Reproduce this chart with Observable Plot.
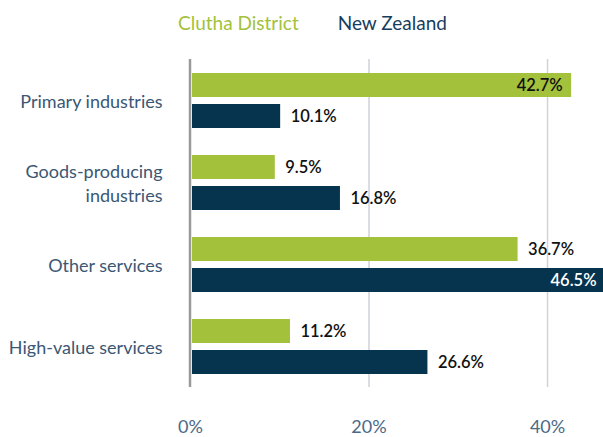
<!DOCTYPE html>
<html>
<head>
<meta charset="utf-8">
<script src="https://cdn.jsdelivr.net/npm/d3@7"></script>
<script src="https://cdn.jsdelivr.net/npm/@observablehq/plot@0.6"></script>
<style>
  html, body { margin: 0; padding: 0; background: #fff; }
  #legend { height: 44px; display: flex; align-items: center; padding-left: 178px; gap: 39px;
            font-family: Lato, "Open Sans", sans-serif; font-size: 19px; }
  #chart svg { display: block; }
</style>
</head>
<body>
<div id="legend"></div>
<div id="chart"></div>
<script>
const categories = ["Primary industries", "Goods-producing industries", "Other services", "High-value services"];
const categoryLabels = ["Primary industries", "Goods-producing\nindustries", "Other services", "High-value services"];
const series = ["Clutha District", "New Zealand"];
const seriesColors = ["#a3c13b", "#06344f"];
const legendColors = ["#a3c13b", "#173d5e"];
const cluthaValues = [42.7, 9.5, 36.7, 11.2];
const nzValues = [10.1, 16.8, 46.5, 26.6];
const xTicks = [0, 20, 40];
const gridTicks = [20, 40];

const rows = [];
categories.forEach((c, i) => {
  rows.push({category: c, series: series[0], value: cluthaValues[i]});
  rows.push({category: c, series: series[1], value: nzValues[i]});
});
const insideLimit = 40;
const fmt = d => d.toFixed(1) + "%";

const legend = document.getElementById("legend");
series.forEach((s, i) => {
  const span = document.createElement("span");
  span.textContent = s;
  span.style.color = legendColors[i];
  legend.appendChild(span);
});

const labelMap = new Map(categories.map((c, i) => [c, categoryLabels[i]]));

const chart = Plot.plot({
  width: 603,
  height: 393,
  marginLeft: 190,
  marginRight: 0,
  marginTop: 14,
  marginBottom: 49,
  style: {fontFamily: "Lato, 'Open Sans', sans-serif", background: "#fff"},
  x: {domain: [0, 46.27]},
  fy: {domain: categories, padding: 0},
  y: {domain: series, paddingInner: 0.234, paddingOuter: 0.406},
  color: {domain: series, range: seriesColors},
  marks: [
    Plot.ruleX(gridTicks, {stroke: "#cdd3da", strokeWidth: 1.5}),
    Plot.barX(rows, {x: "value", y: "series", fy: "category", fill: "series", insetLeft: 2}),
    Plot.ruleX([0], {stroke: "#9a9a9a", strokeWidth: 2.5, dx: -0.5}),
    Plot.text(rows.filter(d => d.value <= insideLimit), {
      x: "value", y: "series", fy: "category", text: d => fmt(d.value),
      textAnchor: "start", dx: 10, fill: "#111", fontSize: 16.5, fontWeight: 600
    }),
    Plot.text(rows.filter(d => d.value > insideLimit), {
      x: "value", y: "series", fy: "category", text: d => fmt(d.value),
      textAnchor: "end", dx: -9, fontSize: 16.5, fontWeight: 600,
      fill: d => d.series === series[1] ? "#fff" : "#111"
    }),
    Plot.axisY({label: null, ticks: []}),
    Plot.axisFy({anchor: "left", label: null, tickSize: 0, tickPadding: 28, fontSize: 18,
                 fill: "#3b5773", lineHeight: 1.3, tickFormat: d => labelMap.get(d)}),
    Plot.axisX({ticks: xTicks, tickFormat: d => d + "%", tickSize: 0, tickPadding: 33,
                label: null, fontSize: 18, fill: "#4a6986"})
  ]
});
document.getElementById("chart").appendChild(chart);
</script>
</body>
</html>
